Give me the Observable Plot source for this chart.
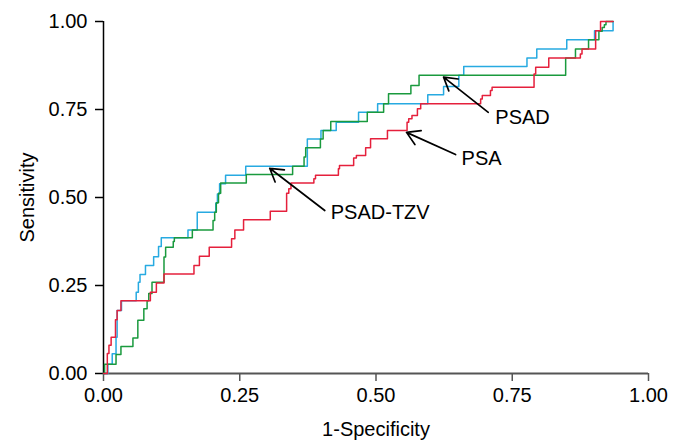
<!DOCTYPE html>
<html>
<head>
<meta charset="utf-8">
<script src="https://cdn.jsdelivr.net/npm/d3@7"></script>
<script src="https://cdn.jsdelivr.net/npm/@observablehq/plot@0.6"></script>
<style>
  html, body { margin: 0; padding: 0; background: #fff; }
</style>
</head>
<body>
<div id="chart"></div>
<script>
// Series: 1-Specificity (x) and Sensitivity (y) at each step of the ROC curves
const seriesNames = ["PSAD", "PSAD-TZV", "PSA"];
const seriesColors = ["#27aae1", "#1a9a3e", "#e5203c"];

const psaX = [0, 0.007, 0.010, 0.014, 0.022, 0.025, 0.032, 0.086, 0.097, 0.111, 0.166, 0.176, 0.194, 0.235, 0.241, 0.257, 0.306, 0.336, 0.340, 0.344, 0.386, 0.389, 0.431, 0.433, 0.459, 0.464, 0.481, 0.490, 0.521, 0.557, 0.560, 0.566, 0.576, 0.582, 0.692, 0.695, 0.710, 0.713, 0.790, 0.793, 0.817, 0.875, 0.878, 0.903, 0.912, 0.935];
const psaY = [0, 0.057, 0.080, 0.103, 0.153, 0.179, 0.207, 0.231, 0.257, 0.283, 0.307, 0.333, 0.359, 0.383, 0.408, 0.437, 0.461, 0.512, 0.525, 0.541, 0.553, 0.563, 0.582, 0.591, 0.612, 0.619, 0.641, 0.667, 0.690, 0.714, 0.724, 0.733, 0.752, 0.766, 0.780, 0.790, 0.804, 0.813, 0.851, 0.870, 0.896, 0.908, 0.922, 0.974, 1.0, 1.0];

const psadX = [0, 0.008, 0.016, 0.023, 0.025, 0.033, 0.060, 0.064, 0.067, 0.077, 0.092, 0.101, 0.106, 0.155, 0.172, 0.206, 0.209, 0.213, 0.224, 0.261, 0.374, 0.399, 0.427, 0.468, 0.503, 0.595, 0.624, 0.652, 0.661, 0.777, 0.795, 0.850, 0.901, 0.935];
const psadY = [0, 0.026, 0.056, 0.103, 0.179, 0.207, 0.231, 0.259, 0.281, 0.307, 0.332, 0.361, 0.386, 0.408, 0.458, 0.484, 0.510, 0.539, 0.563, 0.589, 0.666, 0.690, 0.714, 0.742, 0.766, 0.792, 0.815, 0.847, 0.872, 0.896, 0.922, 0.948, 0.974, 1.0];

const tzvX = [0, 0.002, 0.023, 0.032, 0.054, 0.063, 0.074, 0.080, 0.083, 0.089, 0.111, 0.114, 0.128, 0.130, 0.163, 0.201, 0.204, 0.207, 0.211, 0.215, 0.262, 0.347, 0.368, 0.371, 0.398, 0.403, 0.417, 0.484, 0.514, 0.523, 0.564, 0.579, 0.848, 0.866, 0.890, 0.909, 0.915, 0.919, 0.922, 0.935];
const tzvY = [0, 0.026, 0.054, 0.077, 0.101, 0.151, 0.184, 0.207, 0.227, 0.259, 0.331, 0.359, 0.375, 0.386, 0.408, 0.435, 0.458, 0.485, 0.512, 0.541, 0.565, 0.589, 0.615, 0.641, 0.666, 0.690, 0.716, 0.742, 0.766, 0.795, 0.818, 0.847, 0.896, 0.922, 0.948, 0.972, 0.983, 0.991, 1.0, 1.0];

const xTicks = [0, 0.25, 0.5, 0.75, 1];
const yTicks = [0, 0.25, 0.5, 0.75, 1];

// Annotation labels: arrow tip (x1,y1) and tail (x2,y2), label at tail side
const labels = ["PSAD", "PSA", "PSAD-TZV"];
const labelTipX = [0.624, 0.556, 0.305];
const labelTipY = [0.842, 0.685, 0.583];
const labelTailX = [0.706, 0.646, 0.406];
const labelTailY = [0.742, 0.622, 0.463];
const labelTextX = [0.719, 0.657, 0.417];
const labelTextY = [0.727, 0.611, 0.457];

function build(name, xs, ys) {
  return xs.map((x, i) => ({series: name, x, y: ys[i]}));
}
const rows = [
  ...build("PSAD", psadX, psadY),
  ...build("PSAD-TZV", tzvX, tzvY),
  ...build("PSA", psaX, psaY)
];
const notes = labels.map((t, i) => ({
  t, x1: labelTipX[i], y1: labelTipY[i], x2: labelTailX[i], y2: labelTailY[i],
  tx: labelTextX[i], ty: labelTextY[i]
}));

const fmt = d => d.toFixed(2);
const font = "'Liberation Sans', Arial, Helvetica, sans-serif";

const chart = Plot.plot({
  width: 682,
  height: 441,
  marginLeft: 103,
  marginRight: 34,
  marginTop: 21,
  marginBottom: 68,
  x: {domain: [0, 1]},
  y: {domain: [0, 1]},
  color: {domain: seriesNames, range: seriesColors},
  style: {fontFamily: font, fontSize: "20px", color: "#000", background: "#fff"},
  marks: [
    Plot.axisX({
      ticks: xTicks, tickFormat: fmt, tickSize: 8, tickPadding: 6,
      fontSize: 20, stroke: "#555", strokeWidth: 1.5,
      label: "1-Specificity", labelAnchor: "center", labelArrow: "none", labelOffset: 62
    }),
    Plot.axisY({
      ticks: yTicks, tickFormat: fmt, tickSize: 8, tickPadding: 8,
      fontSize: 20, stroke: "#000", strokeWidth: 1.5,
      label: "Sensitivity", labelAnchor: "center", labelArrow: "none", labelOffset: 84
    }),
    Plot.ruleY([0], {stroke: "#555", strokeWidth: 2}),
    Plot.ruleX([0], {stroke: "#000", strokeWidth: 1.5}),
    Plot.line(rows, {x: "x", y: "y", z: "series", stroke: "series", curve: "step-after", strokeWidth: 1.5}),
    Plot.arrow(notes, {x1: "x2", y1: "y2", x2: "x1", y2: "y1", stroke: "#000", strokeWidth: 1.7, headLength: 13, headAngle: 62}),
    Plot.text(notes, {x: "tx", y: "ty", text: "t", textAnchor: "start", fontSize: 20, fill: "#000"})
  ]
});
document.getElementById("chart").appendChild(chart);
</script>
</body>
</html>
